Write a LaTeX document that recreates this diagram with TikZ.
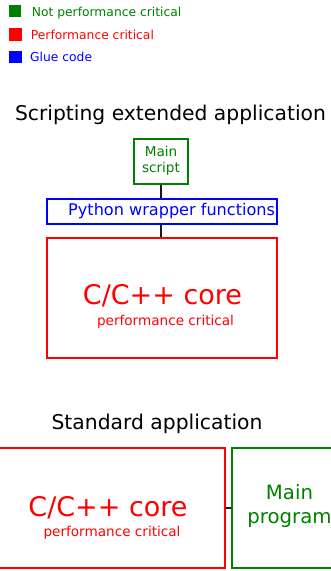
\documentclass[tikz,border=0pt]{standalone}
\usepackage{fontspec}
\setmainfont{DejaVu Sans}
\definecolor{gr}{HTML}{008000}
\definecolor{rd}{HTML}{FF0000}
\definecolor{bl}{HTML}{0000FF}
\begin{document}
\begin{tikzpicture}[x=1pt,y=-1pt,
  box/.style={draw, line width=1.2pt, inner sep=0pt, rectangle},
  txt/.style={inner sep=0pt, anchor=base},
  sq/.style={fill, inner sep=0pt, minimum size=12.5pt},
  conn/.style={draw=black!90, line width=1.5pt},
  fs/.style={font=\fontsize{#1}{#1}\selectfont}]
\useasboundingbox (0,0) rectangle (330,571);
% legend
\node[sq, fill=gr] (lg1) at (14.8,11.2) {};
\node[sq, fill=rd] (lg2) at (15.5,34.5) {};
\node[sq, fill=bl] (lg3) at (15.5,57.2) {};
\node[txt, anchor=base west, text=gr, fs=12.3] (lt1) at (31.7,16) {Not performance critical};
\node[txt, anchor=base west, text=rd, fs=12.3] (lt2) at (30.7,39) {Performance critical};
\node[txt, anchor=base west, text=bl, fs=12.3] (lt3) at (30,61.7) {Glue code};
% top diagram
\node[txt, fs=20.3] (t1) at (170.5,120) {Scripting extended application};
\node[box, draw=gr, minimum width=54pt, minimum height=45pt] (ms) at (161,161.5) {};
\node[txt, text=gr, fs=13.6] (ms1) at (161,156) {Main};
\node[txt, text=gr, fs=13.6] (ms2) at (161,172.3) {script};
\node[box, draw=bl, minimum width=230pt, minimum height=25pt] (py) at (162,211.5) {};
\node[txt, anchor=base west, text=bl, fs=16.1] (pyt) at (68,215.7) {Python wrapper functions};
\node[box, draw=rd, minimum width=230pt, minimum height=120pt] (cc) at (162,298) {};
\node[txt, text=rd, fs=27] (cc1) at (162.5,304) {C/C++ core};
\node[txt, text=rd, fs=13.6] (cc2) at (165.5,325.7) {performance critical};
\draw[conn] (ms.south) -- (ms.south |- py.north);
\draw[conn] (py.south -| ms.south) -- (cc.north -| ms.south);
% bottom diagram
\node[txt, fs=20.3] (t2) at (157,429) {Standard application};
\node[box, draw=rd, minimum width=230pt, minimum height=120pt] (cb) at (110,508) {};
\node[txt, text=rd, fs=27] (cb1) at (108,516) {C/C++ core};
\node[txt, text=rd, fs=13.6] (cb2) at (112,536) {performance critical};
\node[box, draw=gr, minimum width=115pt, minimum height=120pt] (mp) at (289.5,508) {};
\node[txt, text=gr, fs=19.7] (mp1) at (289.5,499.3) {Main};
\node[txt, text=gr, fs=19.7] (mp2) at (289.5,523.3) {program};
\draw[conn] (cb.east) -- (mp.west);
\end{tikzpicture}
\end{document}
